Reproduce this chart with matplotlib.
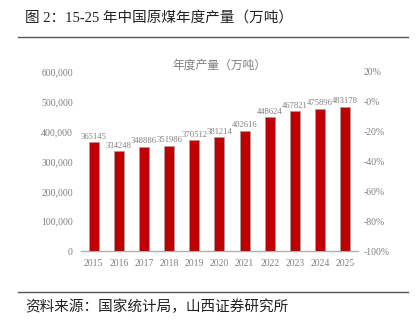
import matplotlib.pyplot as plt
from matplotlib.ticker import FuncFormatter, PercentFormatter
import numpy as np

plt.rcParams['font.family'] = ['Liberation Serif', 'Noto Sans CJK SC']
plt.rcParams['axes.unicode_minus'] = False

years = ['2015', '2016', '2017', '2018', '2019', '2020', '2021', '2022', '2023', '2024', '2025']
output = [365145, 334248, 348886, 351986, 370512, 381214, 402616, 448624, 467821, 475896, 483178]

grey = '#808080'
bar_red = '#C00000'

fig = plt.figure(figsize=(4.16, 3.24), dpi=100)
ax = fig.add_axes([0.195, 0.225, 0.665, 0.553])

x = np.arange(len(years))
ax.bar(x, output, width=0.4, color=bar_red, edgecolor='#a0a0a0', linewidth=0.5, zorder=3)
for xi, v in zip(x, output):
    ax.text(xi, v + 5000, str(v), ha='center', va='bottom', fontsize=6.2, color=grey)

ax.set_xlim(-0.5, len(years) - 0.5)
ax.set_ylim(0, 600000)
ax.set_yticks(np.arange(0, 600001, 100000))
ax.yaxis.set_major_formatter(FuncFormatter(lambda v, p: '0' if v == 0 else f'{int(v):,}'))
ax.set_xticks(x)
ax.set_xticklabels(years)
ax.tick_params(axis='both', length=0, labelsize=7, labelcolor=grey, pad=6)
for s in ['top', 'right', 'left']:
    ax.spines[s].set_visible(False)
ax.spines['bottom'].set_color('#b0b0b0')
ax.spines['bottom'].set_linewidth(1.0)

# secondary percent axis on the right
ax2 = ax.twinx()
ax2.set_ylim(-1.0, 0.2)
ax2.set_yticks(np.arange(-1.0, 0.21, 0.2))
ax2.yaxis.set_major_formatter(PercentFormatter(1.0, decimals=0))
ax2.tick_params(axis='y', length=0, labelsize=7, labelcolor=grey, pad=4)
for s in ax2.spines.values():
    s.set_visible(False)

ax.set_title('年度产量（万吨）', fontsize=8.5, color=grey, pad=-2,
             family=['Noto Sans CJK SC'])

fig.text(0.06, 0.945, '图 2：15-25 年中国原煤年度产量（万吨）', fontsize=10.5,
         color='#222222', va='center', family=['Liberation Serif', 'Noto Sans CJK SC'])
fig.add_artist(plt.Line2D([0.043, 0.98], [0.886, 0.886], color='#555555', linewidth=1.0))
fig.add_artist(plt.Line2D([0.043, 0.98], [0.099, 0.099], color='#555555', linewidth=1.0))
fig.text(0.06, 0.052, '资料来源：国家统计局，山西证券研究所', fontsize=10.5,
         color='#222222', va='center', family=['Noto Sans CJK SC'])

fig.savefig('out.png', dpi=100)
